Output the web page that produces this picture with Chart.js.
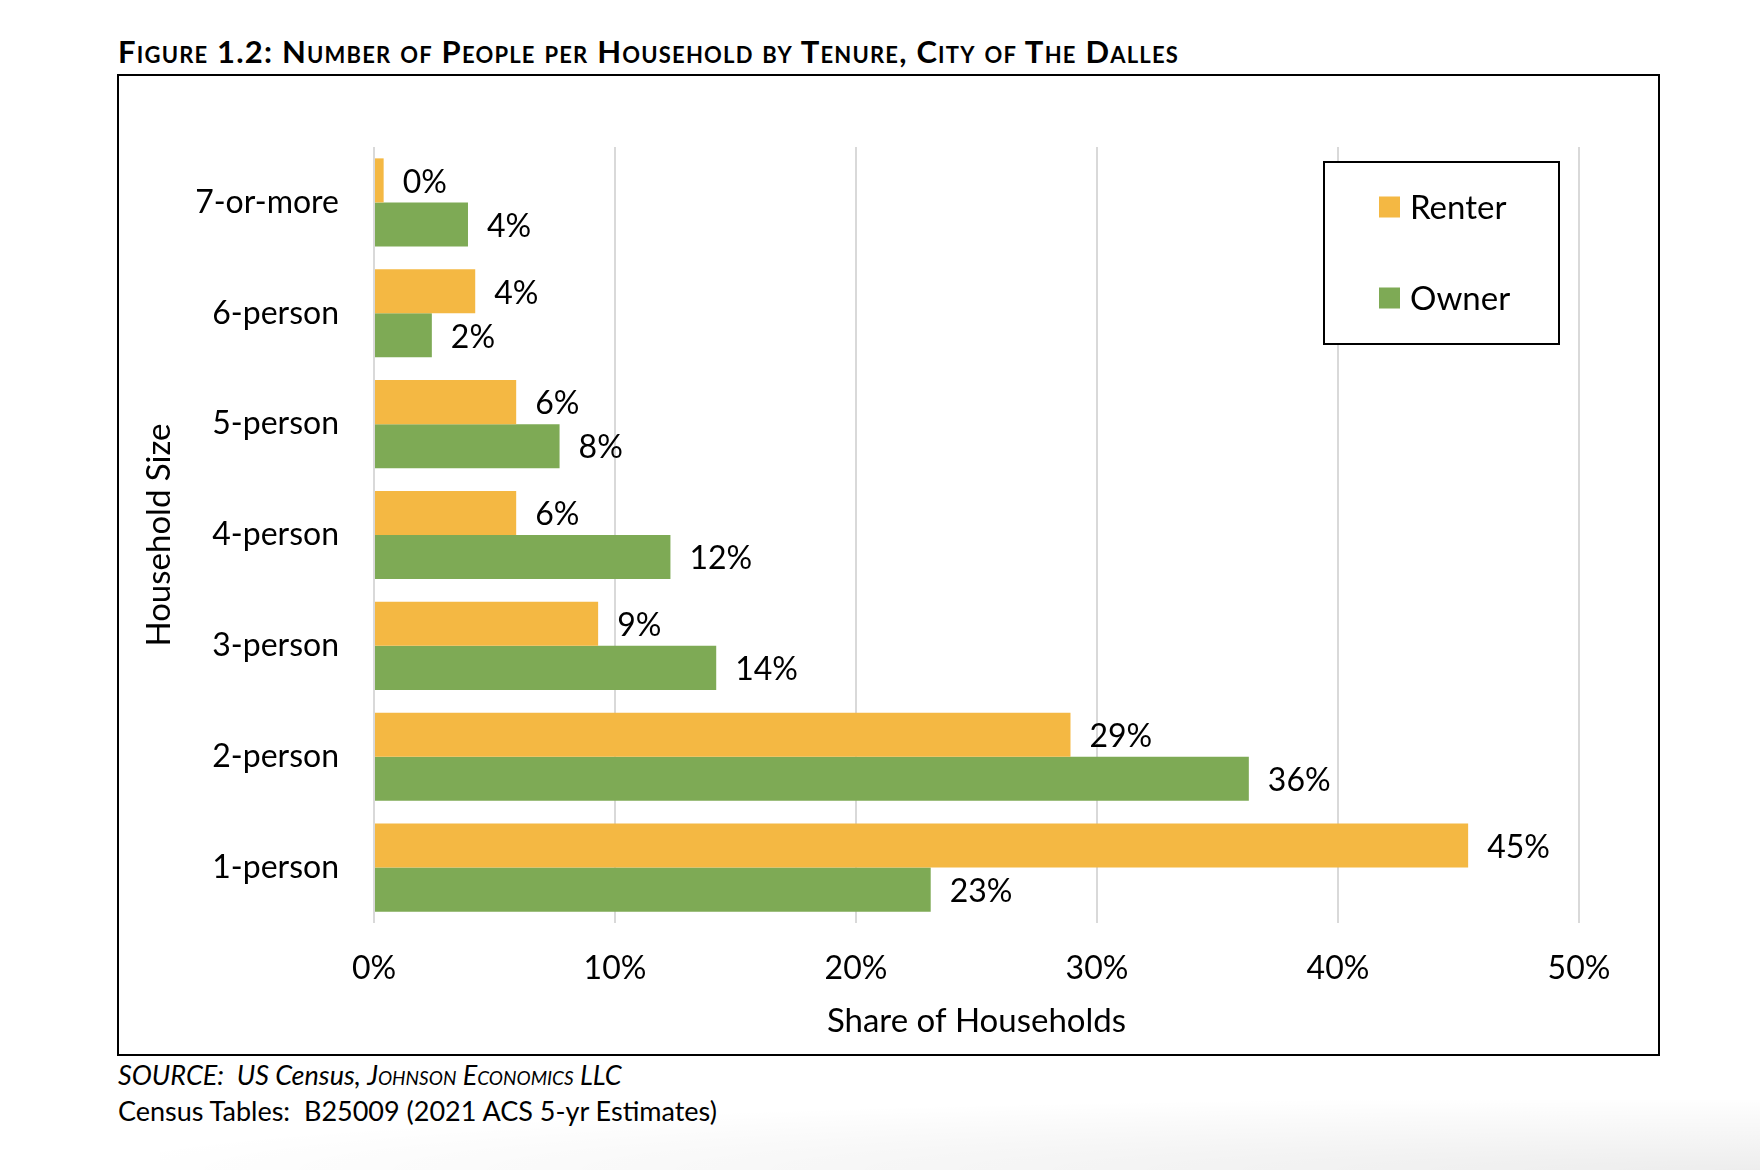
<!DOCTYPE html>
<html>
<head>
<meta charset="utf-8">
<script src="https://cdn.jsdelivr.net/npm/chart.js@4.4.1/dist/chart.umd.min.js"></script>
<style>
  body { margin: 0; background: #fff; width: 1760px; height: 1170px; position: relative; overflow: hidden; font-family: Lato, "Open Sans", sans-serif; color: #000; }
  #title { position: absolute; left: 118px; top: 32px; font-size: 31px; letter-spacing: 1.2px; font-weight: bold; font-variant: small-caps; white-space: nowrap; }
  #frame { position: absolute; left: 117px; top: 74px; width: 1543px; height: 982px; border: 2px solid #000; box-sizing: border-box; }
  #chart { position: absolute; left: 119px; top: 76px; }
  .note { position: absolute; left: 118px; font-size: 27px; white-space: nowrap; }
  #source { top: 1058px; font-style: italic; }
  #tables { top: 1094px; }
  #shade { position: absolute; left: 160px; top: 1100px; width: 1600px; height: 70px;
           background: radial-gradient(ellipse at 100% 100%, rgba(0,0,0,0.07), rgba(0,0,0,0) 75%); }
</style>
</head>
<body>
<div id="title">Figure 1.2: Number of People per Household by Tenure, City of The Dalles</div>
<div id="frame"></div>
<canvas id="chart" width="1539" height="978"></canvas>
<div class="note" id="source">SOURCE:&nbsp; US Census, <span style="font-variant: small-caps">Johnson Economics LLC</span></div>
<div class="note" id="tables">Census Tables:&nbsp; B25009 (2021 ACS 5-yr Estimates)</div>
<div id="shade"></div>

<script>
// Kategori ukuran rumah tangga (atas ke bawah)
const categories = ['7-or-more', '6-person', '5-person', '4-person', '3-person', '2-person', '1-person'];

// Persentase rumah tangga per status kepemilikan
const renterValues = [0.4, 4.2, 5.9, 5.9, 9.3, 28.9, 45.4];
const ownerValues = [3.9, 2.4, 7.7, 12.3, 14.2, 36.3, 23.1];

// Label sumbu X
const xTicks = [0, 10, 20, 30, 40, 50];

const renterColor = '#F4B843';
const ownerColor = '#7EAA55';

Chart.defaults.font.family = 'Lato, "Open Sans", sans-serif';
Chart.defaults.color = '#000';

// Plugin untuk menulis nilai di ujung batang
const valueLabels = {
  id: 'valueLabels',
  afterDatasetsDraw(chart) {
    const ctx = chart.ctx;
    ctx.save();
    ctx.font = '32px Lato, "Open Sans", sans-serif';
    ctx.fillStyle = '#000';
    ctx.textAlign = 'left';
    ctx.textBaseline = 'middle';
    chart.data.datasets.forEach((ds, i) => {
      chart.getDatasetMeta(i).data.forEach((bar, j) => {
        ctx.fillText(Math.round(ds.data[j]) + '%', bar.x + 19, bar.y + 2);
      });
    });
    ctx.restore();
  }
};

// Plugin untuk legenda dalam kotak
const boxLegend = {
  id: 'boxLegend',
  afterDraw(chart) {
    const ctx = chart.ctx;
    const left = 1205, top = 86, w = 235, h = 182;
    ctx.save();
    ctx.fillStyle = '#fff';
    ctx.fillRect(left, top, w, h);
    ctx.strokeStyle = '#000';
    ctx.lineWidth = 2;
    ctx.strokeRect(left, top, w, h);
    ctx.font = '33px Lato, "Open Sans", sans-serif';
    ctx.textBaseline = 'middle';
    chart.data.datasets.forEach((ds, i) => {
      const cy = top + 45 + i * 91;
      ctx.fillStyle = ds.backgroundColor;
      ctx.fillRect(left + 55, cy - 10.5, 21, 21);
      ctx.fillStyle = '#000';
      ctx.fillText(ds.label, left + 86, cy + 1);
    });
    ctx.restore();
  }
};

new Chart(document.getElementById('chart').getContext('2d'), {
  type: 'bar',
  data: {
    labels: categories,
    datasets: [
      { label: 'Renter', data: renterValues, backgroundColor: renterColor },
      { label: 'Owner', data: ownerValues, backgroundColor: ownerColor }
    ]
  },
  options: {
    indexAxis: 'y',
    responsive: false,
    animation: false,
    devicePixelRatio: 1,
    categoryPercentage: 0.795,
    barPercentage: 1.0,
    layout: { padding: { left: 10, top: 71, right: 79, bottom: 10 } },
    plugins: {
      legend: { display: false },
      tooltip: { enabled: false }
    },
    scales: {
      x: {
        min: 0,
        max: 50,
        afterBuildTicks(scale) { scale.ticks = xTicks.map(v => ({ value: v })); },
        afterFit(scale) { scale.height = 121; },
        ticks: { font: { size: 32 }, color: '#000', padding: 26, callback: v => v + '%' },
        grid: { color: '#D9D9D9', lineWidth: 2, drawTicks: false },
        border: { display: false },
        title: { display: true, text: 'Share of Households', font: { size: 33 }, color: '#000', padding: { top: 0, bottom: 3 } }
      },
      y: {
        afterFit(scale) { scale.width = 245; },
        ticks: { font: { size: 32 }, color: '#000', padding: 35 },
        grid: { display: false, drawTicks: false },
        border: { display: false },
        title: { display: true, text: 'Household Size', font: { size: 33 }, color: '#000', padding: { top: 11, bottom: 0 } }
      }
    }
  },
  plugins: [valueLabels, boxLegend]
});
</script>
</body>
</html>
